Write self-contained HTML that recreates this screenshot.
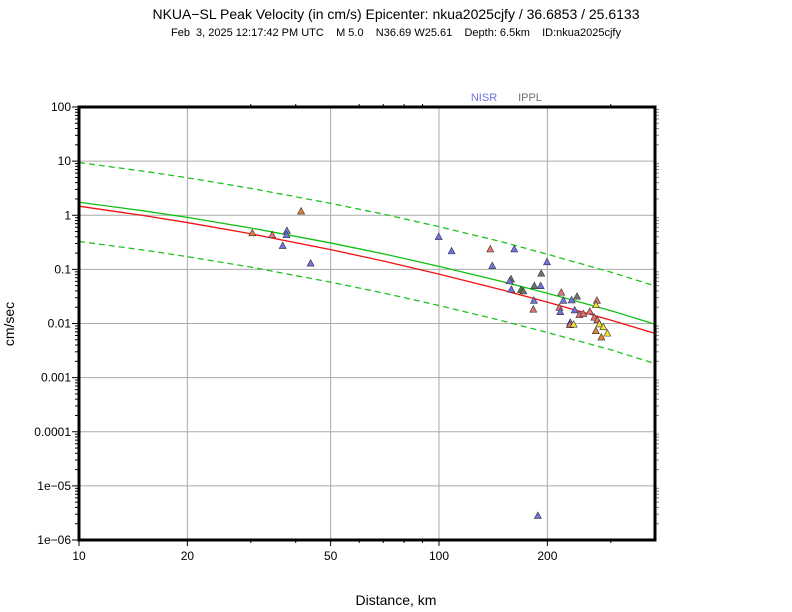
<!DOCTYPE html>
<html><head><meta charset="utf-8">
<style>
html,body{margin:0;padding:0;background:#fff;}
svg{display:block;font-family:"Liberation Sans",sans-serif;}
.pre{white-space:pre;}
</style></head>
<body>
<svg id="chart" width="792" height="612" viewBox="0 0 792 612" xmlns="http://www.w3.org/2000/svg">
<rect width="792" height="612" fill="#fff"/>
<text x="396" y="19" font-size="14" text-anchor="middle">NKUA−SL Peak Velocity (in cm/s) Epicenter: nkua2025cjfy / 36.6853 / 25.6133</text>
<text class="pre" x="396" y="36" font-size="11" text-anchor="middle" xml:space="preserve">Feb  3, 2025 12:17:42 PM UTC    M 5.0    N36.69 W25.61    Depth: 6.5km    ID:nkua2025cjfy</text>
<text x="484" y="101" font-size="11" fill="#7070e0" text-anchor="middle">NISR</text>
<text x="530" y="101" font-size="11" fill="#707070" text-anchor="middle">IPPL</text>
<g id="grid"></g>
<g id="curves"></g>
<g id="points"></g>
<g id="axes"></g>
<text x="396" y="605" font-size="14" text-anchor="middle">Distance, km</text>
<text transform="translate(14,324) rotate(-90)" font-size="14" text-anchor="middle">cm/sec</text>
</svg>
<script>
const xTicks = [10, 20, 50, 100, 200];
const xTickLabels = ["10", "20", "50", "100", "200"];
const yTicks = [100, 10, 1, 0.1, 0.01, 0.001, 0.0001, 1e-5, 1e-6];
const yTickLabels = ["100", "10", "1", "0.1", "0.01", "0.001", "0.0001", "1e−05", "1e−06"];
const curveDist = [10, 15, 20, 30, 50, 70, 100, 150, 200, 300, 400];
const meanRed = [1.47, 0.995, 0.733, 0.455, 0.232, 0.1426, 0.0818, 0.0415, 0.0248, 0.01153, 0.00649];
const meanGreen = [1.74, 1.214, 0.913, 0.582, 0.308, 0.194, 0.1138, 0.0594, 0.0362, 0.01732, 0.0096];
const upperGreen = [9.4, 6.56, 4.93, 3.14, 1.66, 1.05, 0.615, 0.321, 0.19, 0.089, 0.049];
const lowerGreen = [0.328, 0.229, 0.172, 0.110, 0.0581, 0.0366, 0.0215, 0.0112, 0.00683, 0.00327, 0.0018];
const stDist = [99.8,108.4,138.8,161.8,140.6,199.5,192.3,158.5,157,158.8,169,171.5,184,191.6,183.5,182.8,218.6,241.8,221.5,233.6,274.6,272.9,216,217.2,238.2,245.4,251.8,262.4,270,275.4,231.5,231,236.6,278.8,286,272.6,293.5,282.5,188.2,41.4,30.3,34.4,37.8,37.7,36.8,44];
const stPgv = [0.396,0.215,0.234,0.234,0.115,0.135,0.083,0.0653,0.060,0.042,0.0414,0.039,0.049,0.049,0.0263,0.018,0.037,0.0312,0.0263,0.0267,0.0263,0.0218,0.0195,0.0162,0.0174,0.0143,0.0149,0.0165,0.0128,0.0115,0.0103,0.0093,0.0095,0.0096,0.0085,0.0072,0.0065,0.0055,2.78e-6,1.17,0.464,0.427,0.512,0.427,0.27,0.128];
const stNet = ["b","b","r","b","b","b","g","g","b","b","d","g","g","b","b","r","r","g","b","b","r","y","r","b","b","r","r","r","r","r","b","r","y","y","y","o","y","o","b","o","o","r","b","b","b","b"];
const netColor = {b:"#7272e6", r:"#e67272", g:"#707070", d:"#2f8f2f", y:"#f2e034", o:"#e6802e"};

const L=79, R=655, T=107, B=540;
const X1=10*Math.pow(10,(R-L)/360);
function xs(d){return L+(Math.log10(d)-1)/(Math.log10(X1)-1)*(R-L);}
function ys(v){return T+(2-Math.log10(v))/8*(B-T);}
const NS="http://www.w3.org/2000/svg";
function mk(tag,attrs,parent){const e=document.createElementNS(NS,tag);for(const k in attrs)e.setAttribute(k,attrs[k]);parent.appendChild(e);return e;}
const grid=document.getElementById('grid'), axes=document.getElementById('axes'), curves=document.getElementById('curves'), pts=document.getElementById('points');

yTicks.forEach((v,i)=>{
  const y=ys(v);
  const gl=mk('line',{x1:L,x2:R,y1:y,y2:y,stroke:'#aaa','stroke-width':1},grid);
  
  
  const t=mk('text',{x:L-8,y:y+4,'font-size':12,'text-anchor':'end'},axes);
  t.textContent=yTickLabels[i];
  
  
  if(i<yTicks.length-1){for(let m=2;m<10;m++){const ym=ys(v/10*m);
    mk('line',{x1:L-4,x2:L,y1:ym,y2:ym,stroke:'#000','stroke-width':1},axes);
    mk('line',{x1:R,x2:R+4,y1:ym,y2:ym,stroke:'#888','stroke-width':1},axes);}}
  mk('line',{x1:L-7,x2:L,y1:y,y2:y,stroke:'#000','stroke-width':1},axes);
});
xTicks.forEach((d,i)=>{
  const x=xs(d);
  if(i>0){const gl=mk('line',{x1:x,x2:x,y1:T,y2:B,stroke:'#aaa','stroke-width':1},grid);
  
  }
  const t=mk('text',{x:x,y:B+20,'font-size':12,'text-anchor':'middle'},axes);
  t.textContent=xTickLabels[i];
  
  
  mk('line',{x1:x,x2:x,y1:B,y2:B+6,stroke:'#000','stroke-width':1},axes);
});
[30,40,60,70,80,90,300,400].forEach(d=>{const x=xs(d); if(x<=R){mk('line',{x1:x,x2:x,y1:B,y2:B+3,stroke:'#000'},axes);mk('line',{x1:x,x2:x,y1:T-3,y2:T,stroke:'#000'},axes);}});
const fr=mk('rect',{x:L,y:T,width:R-L,height:B-T,fill:'none',stroke:'#000','stroke-width':3},axes);



function curve(vals,color,dash,name){
  const p=mk('polyline',{points:curveDist.map((d,i)=>xs(d)+','+ys(vals[i])).join(' '),fill:'none',stroke:color,'stroke-width':1.3,'stroke-dasharray':dash,'stroke-linejoin':'round'},curves);
  
  
}
curve(upperGreen,'#20c020','6,4','upper-sigma-curve');
curve(lowerGreen,'#20c020','6,4','lower-sigma-curve');
curve(meanGreen,'#10c010','none','gmpe-mean-curve');
curve(meanRed,'#f01010','none','bias-corrected-curve');

stDist.forEach((d,i)=>{
  const x=xs(d), y=ys(stPgv[i]);
  const tri=mk('polygon',{points:`${x},${y-4} ${x-3.5},${y+2.5} ${x+3.5},${y+2.5}`,fill:netColor[stNet[i]],stroke:'#333','stroke-width':0.6},pts);
  
  
});
</script>
</body></html>
